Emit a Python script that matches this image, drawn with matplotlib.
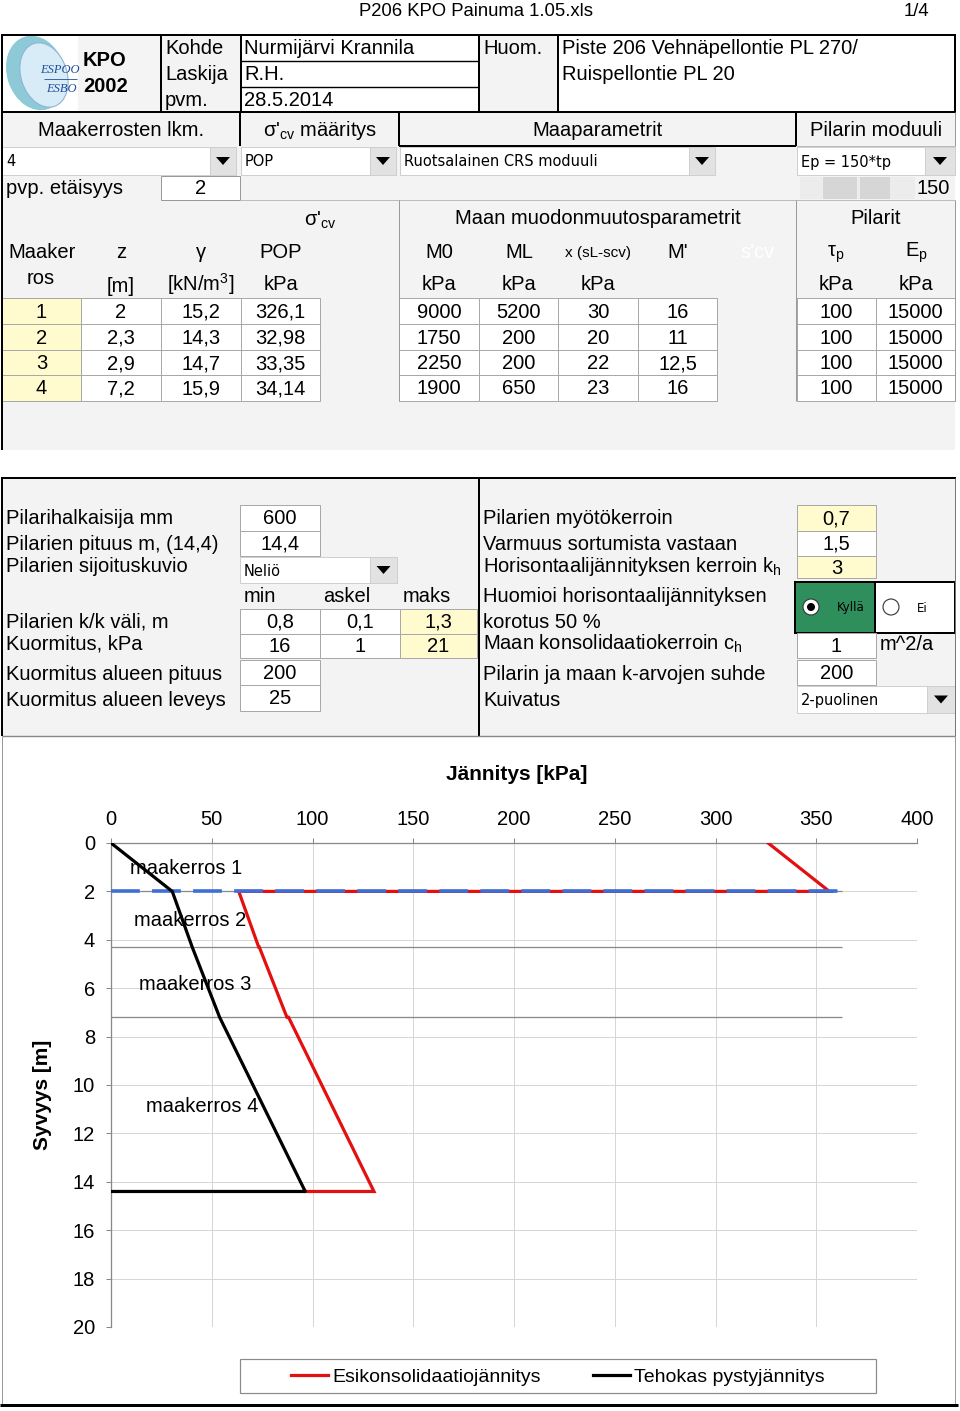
import matplotlib
matplotlib.use("Agg")
import matplotlib.pyplot as plt
from matplotlib.patches import Rectangle, Polygon, Circle, Ellipse

plt.rcParams['font.family'] = ['Liberation Sans', 'DejaVu Sans']
plt.rcParams['mathtext.fontset'] = 'custom'
plt.rcParams['mathtext.rm'] = 'Liberation Sans'
plt.rcParams['mathtext.it'] = 'Liberation Sans:italic'
plt.rcParams['mathtext.bf'] = 'Liberation Sans:bold'

# ---------------- data ----------------
layer_no = ["1", "2", "3", "4"]
layer_z = ["2", "2,3", "2,9", "7,2"]
layer_gamma = ["15,2", "14,3", "14,7", "15,9"]
layer_pop = ["326,1", "32,98", "33,35", "34,14"]
layer_m0 = ["9000", "1750", "2250", "1900"]
layer_ml = ["5200", "200", "200", "650"]
layer_x = ["30", "20", "22", "23"]
layer_mprime = ["16", "11", "12,5", "16"]
pile_tau = ["100", "100", "100", "100"]
pile_ep = ["15000", "15000", "15000", "15000"]

# chart series (kPa vs depth m)
eff_depth = [0, 2, 4.3, 7.2, 14.4, 14.4]
eff_stress = [0, 30.4, 40.3, 53.9, 96.4, 0]
pre_depth = [0, 2, 2, 4.3, 4.3, 7.2, 7.2, 14.4, 14.4]
pre_stress = [326.1, 356.5, 63.4, 73.3, 73.6, 87.3, 88.1, 130.5, 96.4]
water_depth = [2, 2]
water_stress = [0, 364]
layer_bounds = [2, 4.3, 7.2]
layer_bound_end = 363
layer_names = ["maakerros 1", "maakerros 2", "maakerros 3", "maakerros 4"]
layer_label_pos = [(9.4, 1.07), (11.4, 3.22), (13.9, 5.83), (17.4, 10.87)]
x_ticks = [0, 50, 100, 150, 200, 250, 300, 350, 400]
y_ticks = [0, 2, 4, 6, 8, 10, 12, 14, 16, 18, 20]

W, H = 960, 1411
fig = plt.figure(figsize=(W / 100, H / 100), dpi=100)
fig.patch.set_facecolor('white')
bg = fig.add_axes([0, 0, 1, 1], zorder=0)
bg.set_xlim(0, W)
bg.set_ylim(H, 0)
bg.axis('off')

FS = 14.5
PX = 0.72
GRAYBG = '#f3f3f3'
CELLEDGE = '#a8a8a8'
YEL = '#fffbcf'


def box(x0, y0, x1, y1, fc='white', ec=CELLEDGE, lw=PX, z=2):
    bg.add_patch(Rectangle((x0, y0), x1 - x0, y1 - y0, fc=fc, ec=ec, lw=lw, zorder=z))


def hl(y, x0, x1, c='k', lw=2 * PX, z=5):
    bg.plot([x0, x1], [y, y], color=c, lw=lw, solid_capstyle='butt', zorder=z)


def vl(x, y0, y1, c='k', lw=2 * PX, z=5):
    bg.plot([x, x], [y0, y1], color=c, lw=lw, solid_capstyle='butt', zorder=z)


def T(x, y, s, ha='left', size=FS, **kw):
    bg.text(x, y, s, ha=ha, va='center', fontsize=size, zorder=6, **kw)


def dropdown(x0, y0, x1, y1, s, bw=26):
    box(x0, y0, x1, y1, fc='white', ec='#cfcfcf', z=3)
    box(x1 - bw, y0, x1, y1, fc='#e2e2e2', ec='#cfcfcf', z=3)
    cx, cy = x1 - bw / 2, (y0 + y1) / 2
    bg.add_patch(Polygon([(cx - 7, cy - 4), (cx + 7, cy - 4), (cx, cy + 4)],
                         closed=True, fc='black', ec='none', zorder=4))
    T(x0 + 4, cy + 1, s, size=10.5, family='DejaVu Sans')


def cell(x0, y0, x1, y1, s, fc='white'):
    box(x0, y0, x1, y1, fc=fc, z=3)
    T((x0 + x1) / 2, (y0 + y1) / 2 + 1, s, ha='center')


# ---------------- title line ----------------
T(476, 11, "P206 KPO Painuma 1.05.xls", ha='center', size=13.3)
T(929, 11, "1/4", ha='right', size=13.3)

# ---------------- header block ----------------
box(2, 35, 955, 112, fc='white', ec='none', z=1)
box(78, 36, 161, 111, fc='#f4f4f4', ec='none', z=1)
box(161, 36, 241, 111, fc=GRAYBG, ec='none', z=1)
box(479, 36, 558, 111, fc=GRAYBG, ec='none', z=1)
# logo
bg.add_patch(Ellipse((36, 73), 58, 76, angle=-18, fc='#79c0cf', ec='none', alpha=0.85, zorder=2))
bg.add_patch(Ellipse((44, 75), 46, 66, angle=-18, fc='#d8ecf7', ec='none', zorder=2))
bg.add_patch(Ellipse((44, 75), 46, 66, angle=-18, fc='none', ec='#8fb6d6', lw=0.8, zorder=2))
T(60, 70, "ESPOO", ha='center', size=9, family='Liberation Serif', style='italic', color='#1f4e9c')
hl(79, 44, 77, c='#1f4e9c', lw=0.6)
T(61, 89, "ESBO", ha='center', size=9, family='Liberation Serif', style='italic', color='#1f4e9c')
T(83, 60, "KPO", weight='bold')
T(83, 86, "2002", weight='bold')
T(165, 49, "Kohde")
T(165, 75, "Laskija")
T(165, 101, "pvm.")
T(244, 49, "Nurmijärvi Krannila")
T(244, 75, "R.H.")
T(244, 101, "28.5.2014")
T(483, 49, "Huom.")
T(562, 49, "Piste 206 Vehnäpellontie PL 270/")
T(562, 75, "Ruispellontie PL 20")
hl(35, 1, 956)
hl(112, 1, 956)
for xv in (2, 161, 241, 479, 558, 955):
    vl(xv, 35, 112)
hl(61, 241, 479, lw=1.4 * PX)
hl(87, 241, 479, lw=1.4 * PX)

# ---------------- section header + parameter rows ----------------
box(2, 113, 955, 450, fc=GRAYBG, ec='none', z=1)
T(121, 130, "Maakerrosten lkm.", ha='center')
T(320, 130, r"σ'$_{\rm cv}$ määritys", ha='center')
T(598, 130, "Maaparametrit", ha='center')
T(876, 130, "Pilarin moduuli", ha='center')
vl(240, 112, 146)
vl(399, 112, 146)
vl(796, 112, 146)
hl(146, 399, 796)
vl(955, 112, 146, c='#999999', lw=PX)
hl(146, 796, 955, c='#bbbbbb', lw=PX)

dropdown(2, 147, 236, 175, "4")
dropdown(241, 147, 396, 175, "POP")
dropdown(400, 147, 715, 175, "Ruotsalainen CRS moduuli")
dropdown(797, 147, 955, 175, "Ep = 150*tp", bw=30)

T(6, 189, "pvp. etäisyys")
box(161, 176, 240, 200, fc='white', ec='#999999', z=3)
T(201, 189, "2", ha='center')
box(800, 177, 915, 199, fc='#ececec', ec='none', z=3)
box(823, 177, 857, 199, fc='#d6d6d6', ec='none', z=3)
box(860, 177, 890, 199, fc='#d6d6d6', ec='none', z=3)
T(950, 189, "150", ha='right')

# table headers
hl(200, 240, 955, c='#bdbdbd', lw=PX)
vl(399, 200, 401, c='#9a9a9a', lw=PX)
vl(796, 200, 401, c='#9a9a9a', lw=PX)
vl(955, 200, 401, c='#9a9a9a', lw=PX)
T(320, 220, r"σ'$_{\rm cv}$", ha='center')
T(598, 218, "Maan muodonmuutosparametrit", ha='center')
T(876, 218, "Pilarit", ha='center')
T(8, 253, "Maaker")
T(121, 252, "z", ha='center')
T(201, 253, "γ", ha='center')
T(281, 252, "POP", ha='center')
T(439, 252, "M0", ha='center')
T(519, 252, "ML", ha='center')
T(598, 253, "x (sL-scv)", ha='center', size=11)
T(678, 252, "M'", ha='center')
T(758, 252, "s'cv", ha='center', color='white')
T(836, 254, r"τ$_{\rm p}$", ha='center')
T(916, 253, r"E$_{\rm p}$", ha='center')
T(41, 279, "ros", ha='center')
T(121, 286, "[m]", ha='center')
T(201, 284, r"[kN/m$^{3}$]", ha='center')
for xc in (281, 439, 519, 598, 836, 916):
    T(xc, 285, "kPa", ha='center')

row_edges = [298, 324, 350, 375, 401]
colsA = [2, 81, 161, 241, 320]
colsB = [399, 479, 558, 638, 717]
colsC = [797, 876, 955]
for i in range(4):
    y0, y1 = row_edges[i], row_edges[i + 1]
    vals_a = [layer_no[i], layer_z[i], layer_gamma[i], layer_pop[i]]
    for j, v in enumerate(vals_a):
        cell(colsA[j], y0, colsA[j + 1], y1, v, fc=YEL if j == 0 else 'white')
    vals_b = [layer_m0[i], layer_ml[i], layer_x[i], layer_mprime[i]]
    for j, v in enumerate(vals_b):
        cell(colsB[j], y0, colsB[j + 1], y1, v)
    vals_c = [pile_tau[i], pile_ep[i]]
    for j, v in enumerate(vals_c):
        cell(colsC[j], y0, colsC[j + 1], y1, v)

vl(2, 112, 450)

# ---------------- middle section ----------------
box(2, 478, 955, 736, fc=GRAYBG, ec='none', z=1)
hl(478, 1, 956)
vl(2, 478, 736)
vl(479, 478, 736)
vl(955, 478, 736, c='#777777', lw=PX)
hl(736, 2, 955, c='#888888', lw=1.4 * PX)

left_labels = [(518, "Pilarihalkaisija mm"), (544, "Pilarien pituus m, (14,4)"),
               (566, "Pilarien sijoituskuvio"), (621, "Pilarien k/k väli, m"),
               (643, "Kuormitus, kPa"), (673, "Kuormitus alueen pituus"),
               (699, "Kuormitus alueen leveys")]
for y, s in left_labels:
    T(6, y + 1, s)
cell(240, 505, 320, 531, "600")
cell(240, 531, 320, 556, "14,4")
dropdown(240, 557, 397, 583, "Neliö", bw=27)
T(244, 597, "min")
T(323, 597, "askel")
T(403, 597, "maks")
cell(240, 609, 320, 634, "0,8")
cell(320, 609, 400, 634, "0,1")
cell(400, 609, 477, 634, "1,3", fc=YEL)
cell(240, 634, 320, 658, "16")
cell(320, 634, 400, 658, "1")
cell(400, 634, 477, 658, "21", fc=YEL)
cell(240, 660, 320, 685, "200")
cell(240, 685, 320, 711, "25")

right_labels = [(518, "Pilarien myötökerroin"), (544, "Varmuus sortumista vastaan"),
                (566, r"Horisontaalijännityksen kerroin k$_{\rm h}$"),
                (596, "Huomioi horisontaalijännityksen"), (621, "korotus 50 %"),
                (643, r"Maan konsolidaatiokerroin c$_{\rm h}$"),
                (673, "Pilarin ja maan k-arvojen suhde"), (699, "Kuivatus")]
for y, s in right_labels:
    T(483, y + 1, s)
cell(797, 505, 876, 531, "0,7", fc=YEL)
cell(797, 531, 876, 556, "1,5")
cell(797, 556, 876, 578, "3", fc=YEL)
box(795, 582, 875, 633, fc='#2f8f5c', ec='black', lw=2 * PX, z=3)
box(875, 582, 955, 633, fc='white', ec='black', lw=2 * PX, z=3)
bg.add_patch(Circle((811, 607), 8, fc='white', ec='#333333', lw=0.8, zorder=4))
bg.add_patch(Circle((811, 607), 4, fc='black', ec='none', zorder=5))
T(837, 608, "Kyllä", size=8.5, family='DejaVu Sans')
bg.add_patch(Circle((891, 607), 8, fc='white', ec='#333333', lw=0.8, zorder=4))
T(917, 608, "Ei", size=8.5, family='DejaVu Sans')
cell(797, 633, 876, 658, "1")
T(880, 644, "m^2/a")
cell(797, 660, 876, 685, "200")
dropdown(797, 686, 955, 713, "2-puolinen", bw=28)

# ---------------- chart region frame ----------------
vl(2, 736, 1405, c='#999999', lw=PX)
vl(955, 736, 1405, c='#999999', lw=PX)
hl(1405, 0, 958, c='black', lw=3 * PX)
box(240, 1359, 876, 1393, fc='white', ec='#8a8a8a', lw=1.2 * PX, z=2)

# ---------------- chart ----------------
L, R, TOP, BOT = 111, 917, 843, 1327
ax = fig.add_axes([L / W, 1 - BOT / H, (R - L) / W, (BOT - TOP) / H], zorder=2)
ax.patch.set_alpha(0)
ax.set_xlim(0, 400)
ax.set_ylim(20, 0)
ax.set_xticks(x_ticks)
ax.set_yticks(y_ticks)
ax.xaxis.tick_top()
ax.tick_params(axis='both', length=5 * PX, width=PX, color='#888888', labelsize=FS)
ax.tick_params(axis='x', pad=6.6)
ax.tick_params(axis='y', pad=8.0)
ax.grid(True, color='#d6d6d6', lw=PX)
ax.set_axisbelow(True)
for side in ('right', 'bottom'):
    ax.spines[side].set_visible(False)
for side in ('top', 'left'):
    ax.spines[side].set_color('#888888')
    ax.spines[side].set_linewidth(1.3 * PX)

ax.hlines(layer_bounds, 0, layer_bound_end, colors='#8a8a8a', lw=1.3 * PX, zorder=2)
pre_line, = ax.plot(pre_stress, pre_depth, color='#e41010', lw=3.2 * PX, zorder=3,
                    label="Esikonsolidaatiojännitys", solid_joinstyle='miter')
ax.plot(water_stress, water_depth, color='#3f6fd6', lw=3.6 * PX, zorder=4,
        ls=(0, (8.0, 3.4)), solid_capstyle='butt')
eff_line, = ax.plot(eff_stress, eff_depth, color='black', lw=3.2 * PX, zorder=5,
                    label="Tehokas pystyjännitys")
for name, (xv, yv) in zip(layer_names, layer_label_pos):
    ax.text(xv, yv, name, fontsize=FS, va='center', ha='left', zorder=6)

ax.set_xlabel("Jännitys [kPa]", fontsize=15, weight='bold')
ax.xaxis.set_label_position('top')
ax.xaxis.set_label_coords((517 - L) / (R - L), 1 + (TOP - 775) / (BOT - TOP))
ax.xaxis.label.set_va('center')
ax.set_ylabel("Syvyys [m]", fontsize=15, weight='bold')
ax.yaxis.set_label_coords((42 - L) / (R - L), 1 - (1095 - TOP) / (BOT - TOP))
ax.yaxis.label.set_va('center')

ax.legend(handles=[pre_line, eff_line], ncol=2, frameon=False, fontsize=14,
          loc='center', bbox_to_anchor=(558 / W, 1 - 1377 / H), bbox_transform=fig.transFigure,
          handlelength=1.9, handletextpad=0.2, columnspacing=2.7)

fig.savefig("out.png", dpi=100)
